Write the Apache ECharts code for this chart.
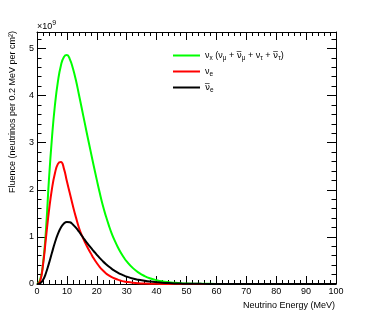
<!DOCTYPE html>
<html><head><meta charset="utf-8">
<script src="https://cdn.jsdelivr.net/npm/echarts@6/dist/echarts.min.js"></script>
<style>html,body{margin:0;padding:0;background:#fff}#c{width:374px;height:316px}</style>
</head><body><div id="c"></div>
<script>
// Neutrino energy (MeV)
const energies = [0,1,2,3,4,5,6,7,8,9,10,11,12,13,14,15,16,17,18,19,20,21,22,23,24,25,26,27,28,29,30,
  32,34,36,38,40,42,44,46,48,50, 55,60,70,80,90,100];
// Fluence in units of 1e9 neutrinos per 0.2 MeV per cm^2
const nuX = [0,0.08,0.42,1.15,2.22,3.1,3.8,4.3,4.64,4.82,4.86,4.77,4.58,4.33,4.03,3.72,3.41,3.10,2.80,2.50,2.21,1.93,1.67,1.45,1.25,1.07,0.92,0.785,0.668,0.567,0.48,
  0.342,0.242,0.169,0.117,0.081,0.055,0.038,0.026,0.017,0.012, 0.005,0.002,0.0003,0,0,0];
const nuE = [0,0.05,0.40,0.98,1.55,2.02,2.35,2.55,2.59,2.45,2.18,1.92,1.66,1.42,1.20,1.03,0.89,0.765,0.65,0.54,0.445,0.36,0.29,0.23,0.185,0.148,0.117,0.092,0.072,0.056,0.044,
  0.027,0.016,0.010,0.006,0.0035,0.002,0.0012,0.0007,0.0004,0.0002, 0,0,0,0,0,0];
const nuEBar = [0,0.012,0.084,0.234,0.438,0.664,0.88,1.062,1.198,1.283,1.318,1.31,1.265,1.195,1.115,1.025,0.935,0.85,0.77,0.695,0.62,0.55,0.485,0.425,0.37,0.322,0.28,0.243,0.21,0.182,0.157,
  0.117,0.09,0.068,0.051,0.038,0.027,0.019,0.013,0.009,0.006, 0.003,0.0015,0.0004,0.0001,0,0];
const xTickLabels = ['0','10','20','30','40','50','60','70','80','90','100'];
const yTickLabels = ['0','1','2','3','4','5'];

const FONT = 'Liberation Sans, Arial, sans-serif';
const pairs = (ys) => energies.map((e, i) => [e, ys[i]]);

function xAx(pos, major, show) {
  return {
    type: 'value', position: pos, min: 0, max: 100, interval: major ? 10 : 2,
    axisLine: { show: major, onZero: false, lineStyle: { color: '#000', width: 1 } },
    axisTick: { show: true, inside: true, length: major ? 8 : 4, lineStyle: { color: '#000', width: 1 } },
    axisLabel: { show: show, fontSize: 9, color: '#000', fontFamily: FONT, margin: 3,
      formatter: (v) => xTickLabels[Math.round(v / 10)] },
    splitLine: { show: false }
  };
}
function yAx(pos, major, show) {
  return {
    type: 'value', position: pos, min: 0, max: 5.35, interval: major ? 1 : 0.2,
    axisLine: { show: major, onZero: false, lineStyle: { color: '#000', width: 1 } },
    axisTick: { show: true, inside: true, length: major ? 9 : 4.5, lineStyle: { color: '#000', width: 1 } },
    axisLabel: { show: show, fontSize: 9, color: '#000', fontFamily: FONT, margin: 3, showMaxLabel: false,
      formatter: (v) => (Math.abs(v - Math.round(v)) < 1e-6 ? yTickLabels[Math.round(v)] : '') },
    splitLine: { show: false }
  };
}

const chart = echarts.init(document.getElementById('c'), null, { renderer: 'canvas' });
const rich = {
  s: { fontSize: 6.5, fontFamily: FONT, color: '#000', padding: [5, 0, 0, 0] },
  b: { fontSize: 9, fontFamily: 'DejaVu Sans', color: '#000' }
};
const line = (ys, color) => ({ type: 'line', data: pairs(ys), smooth: 0.5, showSymbol: false, clip: true,
  lineStyle: { color: color, width: 2 } });
chart.setOption({
  animation: false,
  backgroundColor: '#fff',
  grid: { left: 37, right: 38, top: 32, bottom: 32, containLabel: false },
  xAxis: [xAx('bottom', true, true), xAx('bottom', false, false), xAx('top', true, false), xAx('top', false, false)],
  yAxis: [yAx('left', true, true), yAx('left', false, false), yAx('right', true, false), yAx('right', false, false)],
  series: [line(nuX, '#00ff00'), line(nuE, '#ff0000'), line(nuEBar, '#000000')],
  graphic: [
    { type: 'text', left: 37, top: 20, style: { text: '×10{sup|9}', font: '9px ' + FONT, fill: '#000',
      rich: { sup: { fontSize: 7, fontFamily: FONT, padding: [0, 0, 6, 0] } } } },
    { type: 'text', x: 13, y: 31, rotation: Math.PI / 2,
      style: { text: 'Fluence (neutrinos per 0.2 MeV per cm²)', font: '9px ' + FONT, fill: '#000', align: 'right', verticalAlign: 'middle' } },
    { type: 'text', x: 335, y: 306, style: { text: 'Neutrino Energy (MeV)', font: '9px ' + FONT, fill: '#000', align: 'right', verticalAlign: 'middle' } },
    { type: 'line', shape: { x1: 173, y1: 55.5, x2: 200, y2: 55.5 }, style: { stroke: '#00ff00', lineWidth: 2 } },
    { type: 'line', shape: { x1: 173, y1: 71.5, x2: 200, y2: 71.5 }, style: { stroke: '#ff0000', lineWidth: 2 } },
    { type: 'line', shape: { x1: 173, y1: 87.5, x2: 200, y2: 87.5 }, style: { stroke: '#000000', lineWidth: 2 } },
    { type: 'text', x: 205, y: 55.5, style: { text: 'ν{s|x} (ν{s|μ} + {b|ν\u0305}{s|μ} + ν{s|τ} + {b|ν\u0305}{s|τ})', font: '9px ' + FONT, fill: '#000', verticalAlign: 'middle', rich: rich } },
    { type: 'text', x: 205, y: 71.5, style: { text: 'ν{s|e}', font: '9px ' + FONT, fill: '#000', verticalAlign: 'middle', rich: rich } },
    { type: 'text', x: 205, y: 87.5, style: { text: '{b|ν\u0305}{s|e}', font: '9px ' + FONT, fill: '#000', verticalAlign: 'middle', rich: rich } }
  ]
});
</script></body></html>
